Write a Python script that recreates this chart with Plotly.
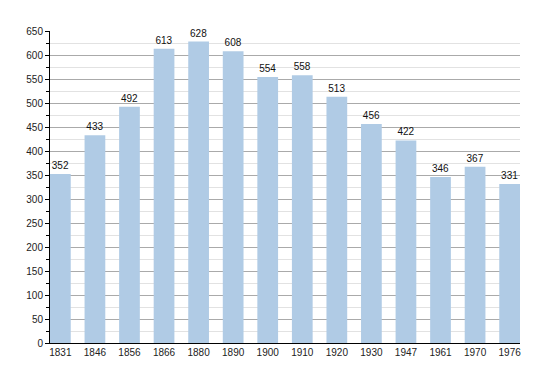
import plotly.graph_objects as go

years = ["1831", "1846", "1856", "1866", "1880", "1890", "1900", "1910", "1920", "1930", "1947", "1961", "1970", "1976"]
population = [352, 433, 492, 613, 628, 608, 554, 558, 513, 456, 422, 346, 367, 331]

fig = go.Figure()
fig.add_trace(go.Bar(
    x=years, y=population,
    marker=dict(color="#b0cbe5", line=dict(width=0)),
    width=0.6,
    text=[str(v) for v in population],
    textposition="outside",
    textfont=dict(family="Liberation Sans, Arial", size=10, color="#111"),
    cliponaxis=False,
))

fig.update_layout(
    width=550, height=373,
    margin=dict(l=50, r=30, t=31, b=30),
    paper_bgcolor="white", plot_bgcolor="white",
    showlegend=False,
    font=dict(family="Liberation Sans, Arial", size=10, color="#222"),
    xaxis=dict(
        type="category", range=[-0.3, 12.3 + 1.0],
        showline=True, linecolor="black", linewidth=1,
        ticks="", showgrid=False,
        tickfont=dict(size=10, color="#222"),
    ),
    yaxis=dict(
        range=[0, 650], dtick=50, tick0=0,
        showline=True, linecolor="black", linewidth=1,
        ticks="outside", ticklen=4, tickcolor="black",
        showgrid=True, gridcolor="#aaaaaa", gridwidth=1,
        minor=dict(dtick=25, showgrid=True, gridcolor="#e2e2e2", ticks="outside", ticklen=3, tickcolor="black"),
        zeroline=False,
        tickfont=dict(size=10, color="#222"),
    ),
    bargap=0.4,
)

fig.write_html("out.html")
